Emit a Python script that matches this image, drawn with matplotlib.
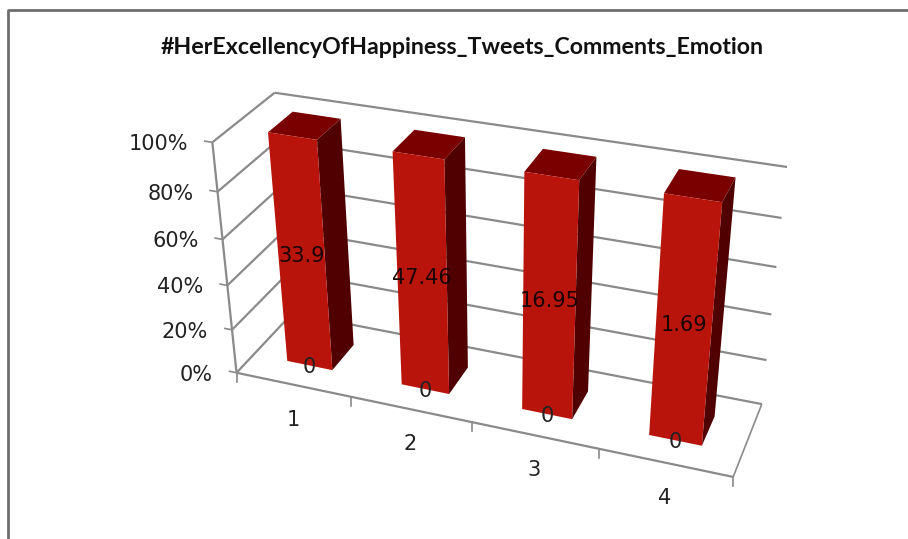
import numpy as np
import matplotlib
matplotlib.use('Agg')
import matplotlib.pyplot as plt
from matplotlib.collections import PolyCollection

title = '#HerExcellencyOfHappiness_Tweets_Comments_Emotion'
categories = ['1', '2', '3', '4']
zero_series = [0, 0, 0, 0]
value_series = [33.9, 47.46, 16.95, 1.69]
pct_ticks = [0, 20, 40, 60, 80, 100]

# the Excel 3D box: (category pos, depth, percent) -> where it lands on the canvas
box_3d = [(0, 0, 0), (4, 0, 0), (4, 1, 0), (0, 1, 0), (0, 0, 100), (0, 1, 100), (4, 1, 100)]
box_px = [(237, 373), (733, 477), (762, 404), (292, 313), (212, 142), (275, 93), (787, 167)]


def fit_camera(pts3, pts2):
    rows = []
    for (x, y, z), (u, v) in zip(pts3, pts2):
        p = [x, y, z / 100, 1]
        u, v = u / 1000, v / 1000
        rows.append(p + [0, 0, 0, 0] + [-u * c for c in p])
        rows.append([0, 0, 0, 0] + p + [-v * c for c in p])
    return np.linalg.svd(np.array(rows))[2][-1].reshape(3, 4)


cam = fit_camera(box_3d, box_px)


def proj(x, y, z):
    h = cam @ np.array([x, y, z / 100, 1])
    return h[0] / h[2] * 1000, h[1] / h[2] * 1000


GRID = '#8a8a8a'
FRONT = '#b9140c'
TOP = '#7a0000'
SIDE = '#500000'

fig = plt.figure(figsize=(9.08, 5.39), dpi=100)
ax = fig.add_axes([0, 0, 1, 1])
ax.set_xlim(0, 908)
ax.set_ylim(539, 0)
ax.axis('off')


def seg(a, b, lw=1.6, color=GRID):
    p, q = proj(*a), proj(*b)
    ax.plot([p[0], q[0]], [p[1], q[1]], color=color, lw=lw, solid_capstyle='butt', zorder=1)


# chart area border, only top and left show in the crop
ax.plot([8, 8, 908], [539, 10, 10], color='#6e6e6e', lw=2, zorder=1)

# walls
for t in pct_ticks:
    seg((0, 0, t), (0, 1, t))
    seg((0, 1, t), (4, 1, t))
    seg((0, 0, t), (-0.07, 0, t), lw=1.2)
    ax.annotate('%d%%' % t, proj(0, 0, t), xytext=(-24, -2), textcoords='offset pixels',
                ha='right', va='center', fontsize=15, color='#222222', family='DejaVu Sans')
seg((0, 0, 0), (0, 0, 100))

# floor
seg((0, 0, 0), (4, 0, 0))
seg((4, 0, 0), (4, 1, 0), lw=1.2)
for i in range(5):
    p = proj(i, 0, 0)
    ax.plot([p[0], p[0]], [p[1], p[1] + 9], color=GRID, lw=1.2, zorder=1)

for i, lab in enumerate(categories):
    ax.annotate(lab, proj(i + 0.5, 0, 0), xytext=(0, -35), textcoords='offset pixels',
                ha='center', va='center', fontsize=15, color='#222222', family='DejaVu Sans')

# bars, 100% stacked so the non zero series always fills the column
x0, x1 = 0.3, 0.7
d0, d1 = 0.3, 0.71
for i in range(len(categories)):
    tot = zero_series[i] + value_series[i]
    z0 = zero_series[i] / tot * 100
    z1 = z0 + value_series[i] / tot * 100
    l, r = i + x0, i + x1
    side = [proj(r, d0, z0), proj(r, d1, z0), proj(r, d1, z1), proj(r, d0, z1)]
    top = [proj(l, d0, z1), proj(r, d0, z1), proj(r, d1, z1), proj(l, d1, z1)]
    front = [proj(l, d0, z0), proj(r, d0, z0), proj(r, d0, z1), proj(l, d0, z1)]
    ax.add_collection(PolyCollection([side, top, front], facecolors=[SIDE, TOP, FRONT],
                                     edgecolors='none', zorder=2))
    ax.annotate(str(value_series[i]), proj(i + 0.5, d0, (z0 + z1) / 2), xytext=(0, 0),
                textcoords='offset pixels', ha='center', va='center', fontsize=15,
                color='#1a0505', family='DejaVu Sans', zorder=3)
    ax.annotate(str(zero_series[i]), proj(i + 0.5, d0, z0), xytext=(0, -2),
                textcoords='offset pixels', ha='center', va='center', fontsize=15,
                color='#222222', family='DejaVu Sans', zorder=3)

ax.text(462, 47, title, ha='center', va='center', fontsize=16.7, fontweight='bold',
        family='Lato', color='#111111')

fig.savefig('out.png', dpi=100)
